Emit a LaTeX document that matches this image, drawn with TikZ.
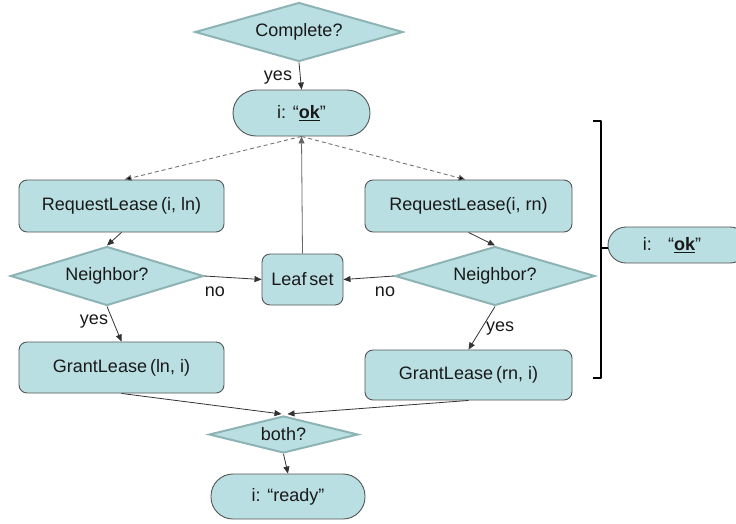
\documentclass[tikz,border=0pt]{standalone}
\usepackage{fontspec}
\setmainfont{Liberation Sans}
\usetikzlibrary{shapes.geometric,arrows.meta}
\definecolor{boxfill}{HTML}{B9DFE2}
\definecolor{diaedge}{HTML}{8DB3B5}
\definecolor{boxedge}{HTML}{555555}
\begin{document}
\begin{tikzpicture}[x=1pt,y=-1pt,
  every node/.style={font=\fontsize{18}{21}\selectfont,text=black!90},
  boxnode/.style={draw=boxedge,line width=0.9pt,fill=boxfill,rounded corners=8pt,inner sep=0pt},
  stadium/.style={draw=boxedge,line width=0.9pt,fill=boxfill,inner sep=0pt},
  dianode/.style={diamond,draw=diaedge,line width=2pt,fill=boxfill,inner sep=0pt},
  lbl/.style={inner sep=0pt},
  arr/.style={draw=black!80,line width=0.8pt,-{Triangle[length=7pt,width=6pt]}},
  darr/.style={draw=black!55,line width=0.9pt,dashed,dash pattern=on 4pt off 3pt,-{Triangle[length=7pt,width=6pt,fill=black]}},
  bracket/.style={draw=black,line width=2.4pt,line join=round}
]
\useasboundingbox (0,0) rectangle (736,523);
\clip (0,0) rectangle (736,523);

\node[dianode,shape aspect=3.5,minimum width=208pt,minimum height=59pt] (complete) at (299,32) {Complete?};
\node[stadium,rounded corners=23pt,minimum width=137pt,minimum height=46pt] (ok) at (301.5,113) {i: “\underline{\textbf{ok}}”};

\node[boxnode,minimum width=205pt,minimum height=52pt] (reqL) at (121.5,206) {RequestLease\,(i, ln)};
\node[boxnode,minimum width=207pt,minimum height=52pt] (reqR) at (468.5,206) {RequestLease(i, rn)};

\node[dianode,shape aspect=3.3,minimum width=193pt,minimum height=59pt] (neighL) at (107,276) {Neighbor?};
\node[dianode,shape aspect=3.4,minimum width=200pt,minimum height=59pt] (neighR) at (495,276) {Neighbor?};
\node[boxnode,minimum width=81pt,minimum height=51pt] (leaf) at (302.5,279.5) {Leaf\,set};

\node[boxnode,minimum width=205pt,minimum height=51pt] (grantL) at (121.5,367.5) {GrantLease\,(ln, i)};
\node[boxnode,minimum width=207pt,minimum height=50pt] (grantR) at (468.5,375) {GrantLease\,(rn, i)};

\node[dianode,shape aspect=4,minimum width=149pt,minimum height=37pt] (both) at (283.5,434.5) {both?};
\node[stadium,rounded corners=22pt,minimum width=154pt,minimum height=45pt] (ready) at (288,496.5) {i: “ready”};

\node[stadium,rounded corners=18pt,minimum width=140pt,minimum height=36pt] (okR) at (678,245) {i:\hspace{0.9em}“\underline{\textbf{ok}}”\hspace*{12pt}};

% labels
\node[lbl] (yes0) at (278,78) {yes};
\node[lbl] (noL) at (215,292) {no};
\node[lbl] (noR) at (385,292) {no};
\node[lbl] (yesL) at (94,322) {yes};
\node[lbl] (yesR) at (500,329) {yes};

% connectors
\draw[arr] (complete.south) -- (ok.north);
\draw[darr] (ok.south) -- ([xshift=3pt]reqL.north);
\draw[darr] (ok.south) -- ([xshift=-3pt]reqR.north);
\draw[arr,draw=black!60] (leaf.north) -- (ok.south);
\draw[arr] (reqL.south) -- (neighL.north);
\draw[arr] (reqR.south) -- (neighR.north);
\draw[arr] (neighL.east) -- (leaf.west);
\draw[arr] (neighR.west) -- (leaf.east);
\draw[arr] (neighL.south) -- (grantL.north);
\draw[arr] (neighR.south) -- (grantR.north);
\coordinate (bothinL) at ([xshift=-2pt,yshift=1pt]both.north);
\coordinate (bothinR) at ([xshift=4pt,yshift=1pt]both.north);
\draw[arr] (grantL.south) -- (bothinL);
\draw[arr] (grantR.south) -- (bothinR);
\draw[arr] (both.south) -- (ready.north);

% bracket
\coordinate (brTop) at (593,121);
\coordinate (brBot) at (593,378);
\coordinate (brMid) at (601,248);
\draw[bracket] (brTop) -- (601,121) -- (601,378) -- (brBot);
\draw[bracket] (brMid) -- (okR.west |- brMid);
\end{tikzpicture}
\end{document}
